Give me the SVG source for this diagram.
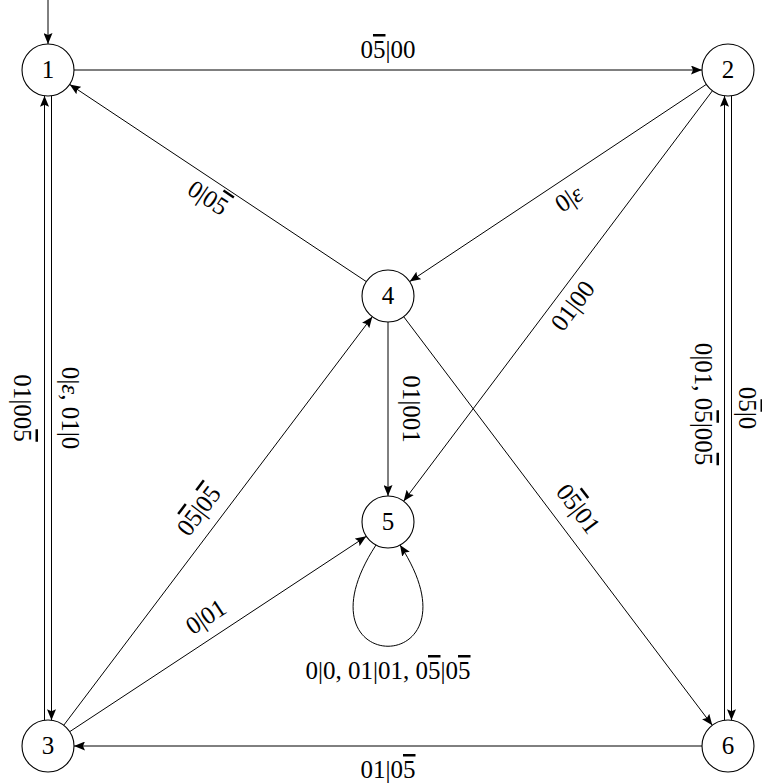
<svg xmlns="http://www.w3.org/2000/svg" width="762" height="784" viewBox="0 0 762 784">
<defs>
<marker id="arr" markerUnits="userSpaceOnUse" markerWidth="11" markerHeight="9" viewBox="0 0 11 9" refX="11" refY="4.5" orient="auto">
<path d="M0,0 L11,4.5 L0,9 L2,4.5 z" fill="#000"/>
</marker>
</defs>
<style>
.edge{fill:none;stroke:#000;stroke-width:1;marker-end:url(#arr)}
.node circle{fill:#fff;stroke:#000;stroke-width:1.1}
text{font-family:"Liberation Serif","Times New Roman",serif;font-size:25px;fill:#000;text-anchor:middle}
.ob{text-decoration:overline}
.it{font-style:italic}
</style>
<rect width="762" height="784" fill="#fff"/>
<g id="connectors">
<path class="edge" d="M48,0 L48,44"/>
<path class="edge" d="M74,70 L702,70"/>
<path class="edge" d="M702,746 L74,746"/>
<path class="edge" d="M51.5,95.8 L51.5,720.2"/>
<path class="edge" d="M44.5,720.2 L44.5,95.8"/>
<path class="edge" d="M731.5,95.8 L731.5,720.2"/>
<path class="edge" d="M724.5,720.2 L724.5,95.8"/>
<path class="edge" d="M706.3,84.4 L409.7,281.6"/>
<path class="edge" d="M366.3,281.6 L69.7,84.4"/>
<path class="edge" d="M712.4,90.8 L403.6,501.2"/>
<path class="edge" d="M388,322 L388,496"/>
<path class="edge" d="M63.7,725.3 L372.3,316.7"/>
<path class="edge" d="M403.7,316.7 L712.3,725.3"/>
<path class="edge" d="M69.7,731.7 L366.3,536.3"/>
<path class="edge" d="M376,545 C288,680 488,680 400,545"/>
</g>
<g id="labels">
<text x="388" y="58">0<tspan class="ob">5</tspan>|00</text>
<text x="388" y="778">01|0<tspan class="ob">5</tspan></text>
<text x="388" y="679">0|0, 01|01, 0<tspan class="ob">5</tspan>|0<tspan class="ob">5</tspan></text>
<text transform="translate(208,198) rotate(33.6)" y="8">0|0<tspan class="ob">5</tspan></text>
<text transform="translate(569,199) rotate(-33.6)" y="8">0|<tspan class="it">ε</tspan></text>
<text transform="translate(573,306) rotate(-53)" y="8">01|00</text>
<text transform="translate(199,511) rotate(-52.9)" y="8">0<tspan class="ob">5</tspan>|0<tspan class="ob">5</tspan></text>
<text transform="translate(578,509) rotate(52.9)" y="8">0<tspan class="ob">5</tspan>|01</text>
<text transform="translate(206,617) rotate(-33.4)" y="8">0|01</text>
<text transform="translate(22,408) rotate(90)" y="8">01|00<tspan class="ob">5</tspan></text>
<text transform="translate(70,408) rotate(90)" y="8">0|<tspan class="it">ε</tspan>, 01|0</text>
<text transform="translate(703,404) rotate(90)" y="8">0|01, 0<tspan class="ob">5</tspan>|00<tspan class="ob">5</tspan></text>
<text transform="translate(747,408) rotate(90)" y="8">0<tspan class="ob">5</tspan>|0</text>
<text transform="translate(411,409) rotate(90)" y="8">01|001</text>
</g>
<g id="node1" class="node"><circle cx="48" cy="70" r="26"/><text x="48" y="78">1</text></g>
<g id="node2" class="node"><circle cx="728" cy="70" r="26"/><text x="728" y="78">2</text></g>
<g id="node3" class="node"><circle cx="48" cy="746" r="26"/><text x="48" y="754">3</text></g>
<g id="node4" class="node"><circle cx="388" cy="296" r="26"/><text x="388" y="304">4</text></g>
<g id="node5" class="node"><circle cx="388" cy="522" r="26"/><text x="388" y="530">5</text></g>
<g id="node6" class="node"><circle cx="728" cy="746" r="26"/><text x="728" y="754">6</text></g>
</svg>
